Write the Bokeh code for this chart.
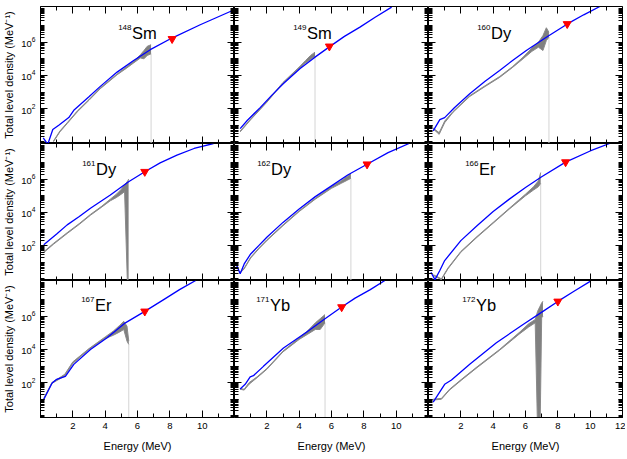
from bokeh.plotting import figure
from bokeh.layouts import gridplot
from bokeh.models import (LinearAxis, LogAxis, FixedTicker, LogTickFormatter,
                          CustomJSTickFormatter, Range1d)
from bokeh.embed import file_html
from bokeh.resources import INLINE
from bokeh.core.properties import value

# ---------------- data (energy in MeV, level density as log10 of MeV^-1) ----
mass_numbers = ["148", "149", "160", "161", "162", "166", "167", "171", "172"]
elements = ["Sm", "Sm", "Dy", "Dy", "Dy", "Er", "Er", "Yb", "Yb"]

# model (blue) curves
sm148_model_e = [0.17, 0.45, 0.76, 1.13, 1.75, 2.06, 2.98, 3.7, 4.74, 5.76, 6.79, 8.13, 9.88, 11.74, 12.0]
sm148_model_log = [0.24, -0.15, 0.74, 1.0, 1.46, 1.9, 2.7, 3.34, 4.2, 4.9, 5.55, 6.25, 7.05, 7.85, 7.95]
sm149_model_e = [0.35, 0.8, 1.59, 2.3, 3.03, 4.06, 4.98, 5.91, 6.8, 7.76, 8.7, 9.72]
sm149_model_log = [0.8, 1.3, 2.06, 2.8, 3.51, 4.41, 5.1, 5.75, 6.35, 6.91, 7.5, 8.11]
dy160_model_e = [0.29, 0.7, 1.0, 1.6, 2.55, 3.5, 4.4, 5.2, 6.05, 7.29, 8.59, 9.6, 10.6]
dy160_model_log = [0.66, 1.34, 1.46, 2.05, 2.9, 3.65, 4.3, 4.9, 5.5, 6.3, 7.1, 7.65, 8.15]
dy161_model_e = [0.2, 1.0, 1.65, 2.4, 3.09, 4.32, 5.45, 6.45, 7.4, 8.44, 9.5, 10.7]
dy161_model_log = [2.05, 2.7, 3.25, 3.75, 4.25, 5.05, 5.85, 6.45, 6.98, 7.45, 7.85, 8.15]
dy162_model_e = [0.1, 0.35, 0.6, 1.0, 1.5, 2.0, 3.0, 4.0, 5.0, 6.0, 7.0, 8.2, 9.5, 10.8]
dy162_model_log = [0.9, 0.3, 0.9, 1.5, 2.0, 2.5, 3.4, 4.2, 4.95, 5.6, 6.25, 6.9, 7.6, 8.15]
er166_model_e = [0.15, 0.4, 0.7, 1.0, 2.0, 3.0, 4.0, 5.0, 6.0, 7.0, 8.48, 10.0, 11.2]
er166_model_log = [0.4, -0.05, 0.5, 1.1, 2.3, 3.2, 4.05, 4.8, 5.5, 6.15, 7.03, 7.7, 8.15]
er167_model_e = [0.2, 0.72, 1.0, 1.54, 2.06, 3.09, 4.12, 5.25, 6.45, 7.62, 8.6, 9.6]
er167_model_log = [0.98, 1.98, 2.2, 2.38, 3.1, 4.0, 4.7, 5.6, 6.29, 7.0, 7.6, 8.15]
yb171_model_e = [0.35, 0.66, 0.97, 1.17, 1.79, 3.03, 4.47, 5.6, 6.63, 7.46, 8.4, 9.3]
yb171_model_log = [1.62, 1.9, 2.35, 2.42, 2.98, 4.09, 5.05, 5.85, 6.55, 7.09, 7.6, 8.15]
yb172_model_e = [0.29, 1.0, 1.42, 2.55, 4.2, 5.85, 7.08, 8.0, 9.0, 10.0]
yb172_model_log = [0.82, 1.9, 2.16, 3.1, 4.4, 5.5, 6.29, 6.89, 7.5, 8.1]

# experimental (grey) bands: lower and upper edge
sm148_exp_e = [0.8, 1.2, 1.65, 2.27, 3.0, 3.7, 4.74, 5.3, 5.76, 6.18, 6.4, 6.6, 6.84]
sm148_exp_lo = [0.0, 0.6, 1.1, 1.8, 2.5, 3.2, 4.04, 4.42, 4.75, 5.05, 5.0, 5.2, 5.3]
sm148_exp_hi = [0.05, 0.65, 1.15, 1.85, 2.55, 3.25, 4.09, 4.5, 4.85, 5.25, 5.5, 5.75, 5.85]
sm149_exp_e = [0.35, 1.0, 2.0, 3.0, 4.0, 4.4, 4.7, 4.98]
sm149_exp_lo = [0.6, 1.33, 2.38, 3.53, 4.42, 4.75, 4.95, 5.15]
sm149_exp_hi = [0.65, 1.38, 2.43, 3.58, 4.5, 4.9, 5.2, 5.4]
dy160_exp_e = [0.29, 0.66, 1.0, 1.52, 2.55, 3.5, 4.4, 5.2, 5.85, 6.4, 6.8, 7.08, 7.29, 7.45]
dy160_exp_lo = [0.78, 0.45, 1.15, 1.78, 2.73, 3.33, 3.88, 4.48, 5.0, 5.45, 5.7, 5.5, 6.1, 6.3]
dy160_exp_hi = [0.83, 0.55, 1.25, 1.83, 2.78, 3.38, 3.93, 4.53, 5.1, 5.65, 6.0, 6.4, 6.87, 6.6]
dy161_exp_e = [0.2, 0.8, 1.65, 2.4, 3.09, 3.8, 4.32, 4.7, 5.0, 5.2, 5.4, 5.45]
dy161_exp_lo = [1.58, 2.08, 2.73, 3.28, 3.83, 4.33, 4.7, 4.9, 5.1, 5.25, -1.0, -1.0]
dy161_exp_hi = [1.63, 2.13, 2.78, 3.33, 3.88, 4.38, 4.8, 5.1, 5.4, 5.65, 5.9, 6.0]
dy162_exp_e = [0.35, 0.6, 1.0, 1.5, 2.0, 3.0, 4.0, 5.0, 6.0, 6.6, 7.0, 7.2]
dy162_exp_lo = [0.35, 0.6, 1.25, 1.8, 2.3, 3.2, 4.05, 4.8, 5.45, 5.75, 5.95, 6.05]
dy162_exp_hi = [0.4, 0.65, 1.3, 1.85, 2.35, 3.25, 4.1, 4.85, 5.55, 5.9, 6.2, 6.35]
er166_exp_e = [0.3, 0.8, 1.2, 2.0, 3.0, 4.0, 5.0, 6.0, 6.5, 6.8, 6.94]
er166_exp_lo = [0.2, -0.05, 0.6, 1.6, 2.5, 3.35, 4.2, 5.0, 5.35, 5.55, 5.75]
er166_exp_hi = [0.25, 0.0, 0.65, 1.65, 2.55, 3.4, 4.25, 5.1, 5.55, 5.9, 6.4]
er167_exp_e = [0.2, 0.7, 1.5, 2.0, 3.0, 4.0, 4.5, 4.9, 5.15, 5.35, 5.46]
er167_exp_lo = [1.0, 1.95, 2.4, 3.15, 4.0, 4.65, 4.85, 5.05, 5.2, 4.5, 4.3]
er167_exp_hi = [1.05, 2.0, 2.5, 3.25, 4.05, 4.75, 5.1, 5.45, 5.69, 5.4, 4.5]
yb171_exp_e = [0.35, 0.6, 0.9, 1.4, 2.0, 3.0, 4.0, 4.5, 5.0, 5.3, 5.6]
yb171_exp_lo = [1.6, 1.55, 1.9, 2.3, 2.8, 3.85, 4.6, 4.9, 5.2, 5.2, 5.6]
yb171_exp_hi = [1.65, 1.6, 2.0, 2.35, 2.85, 3.9, 4.7, 5.1, 5.6, 5.85, 6.1]
yb172_exp_e = [0.29, 0.8, 1.3, 2.04, 3.0, 4.4, 5.65, 6.2, 6.6, 6.75, 6.9, 7.0, 7.08]
yb172_exp_lo = [0.95, 1.0, 1.55, 2.15, 2.9, 3.95, 4.95, 5.35, 5.6, -1.0, -1.0, 5.9, 6.0]
yb172_exp_hi = [1.0, 1.05, 1.6, 2.2, 2.95, 4.0, 5.05, 5.55, 5.8, 6.3, 6.6, 6.8, 6.9]

# level density at the neutron separation energy (red triangles)
sn_energy = [8.14, 5.87, 8.58, 6.45, 8.2, 8.48, 6.45, 6.63, 8.0]
sn_log_rho = [6.2, 5.75, 7.1, 6.45, 6.9, 7.03, 6.29, 6.55, 6.89]

model_e = [sm148_model_e, sm149_model_e, dy160_model_e, dy161_model_e, dy162_model_e,
           er166_model_e, er167_model_e, yb171_model_e, yb172_model_e]
model_log = [sm148_model_log, sm149_model_log, dy160_model_log, dy161_model_log, dy162_model_log,
             er166_model_log, er167_model_log, yb171_model_log, yb172_model_log]
exp_e = [sm148_exp_e, sm149_exp_e, dy160_exp_e, dy161_exp_e, dy162_exp_e,
         er166_exp_e, er167_exp_e, yb171_exp_e, yb172_exp_e]
exp_lo = [sm148_exp_lo, sm149_exp_lo, dy160_exp_lo, dy161_exp_lo, dy162_exp_lo,
          er166_exp_lo, er167_exp_lo, yb171_exp_lo, yb172_exp_lo]
exp_hi = [sm148_exp_hi, sm149_exp_hi, dy160_exp_hi, dy161_exp_hi, dy162_exp_hi,
          er166_exp_hi, er167_exp_hi, yb171_exp_hi, yb172_exp_hi]
draw_end_marker = [True, True, True, False, True, True, True, True, False]

x_major_ticks = [2, 4, 6, 8, 10]
x_major_ticks_last = [2, 4, 6, 8, 10, 12]
x_minor_ticks = [1, 3, 5, 7, 9, 11]
y_major_ticks = [1e2, 1e4, 1e6]

# ---------------- styling / layout ------------------------------------------
FONT = "Liberation Sans"
X_MIN, X_MAX = 0.0, 12.0
LOG_MIN, LOG_MAX = -0.1, 8.15
Y_MIN, Y_MAX = 10 ** LOG_MIN, 10 ** LOG_MAX
y_minor_ticks = [k * 10.0 ** n for n in range(-1, 9) for k in range(1, 10)
                 if Y_MIN <= k * 10.0 ** n <= Y_MAX and k * 10.0 ** n not in y_major_ticks]

label_x_px = [79, 60, 50, 43, 24, 38, 42, 23, 35]
label_y_px = [26, 26, 26, 25, 25, 25, 24, 24, 24]

FW, FH = 194, 137


def style_axis(ax, show_labels):
    ax.axis_line_color = "black"
    ax.axis_line_width = 1
    ax.major_tick_line_color = "black"
    ax.minor_tick_line_color = "black"
    ax.major_tick_in = 7
    ax.major_tick_out = 0
    ax.minor_tick_in = 4
    ax.minor_tick_out = 0
    ax.major_label_text_font = FONT
    ax.major_label_text_font_size = "9.5px"
    ax.major_label_text_color = "black"
    ax.axis_label_text_font = FONT
    ax.axis_label_text_font_size = "11px"
    ax.axis_label_text_font_style = "normal"
    ax.axis_label_text_color = "black"
    if not show_labels:
        ax.formatter = CustomJSTickFormatter(code="return ''")


def make_panel(i):
    r, c = divmod(i, 3)
    p = figure(frame_width=FW, frame_height=FH,
               x_range=Range1d(X_MIN, X_MAX), y_range=Range1d(Y_MIN, Y_MAX),
               y_axis_type="log", x_axis_location=None, y_axis_location=None,
               output_backend="svg", toolbar_location=None,
               min_border_left=39 if c == 0 else 0,
               min_border_right=3 if c == 2 else 0,
               min_border_top=6 if r == 0 else 0, min_border_bottom=0,
               background_fill_color="white", border_fill_color="white")
    p.outline_line_color = "black"
    p.grid.visible = False

    xt = x_major_ticks_last if c == 2 else x_major_ticks
    # bottom axis
    if r == 2:
        bx = LinearAxis(ticker=FixedTicker(ticks=xt, minor_ticks=x_minor_ticks),
                        axis_label="Energy (MeV)")
        style_axis(bx, True)
        bx.major_label_standoff = 5
        bx.axis_label_standoff = 8
    else:
        bx = LinearAxis(ticker=FixedTicker(ticks=xt, minor_ticks=x_minor_ticks),
                        fixed_location=Y_MIN)
        style_axis(bx, False)
    p.add_layout(bx, "below")
    # top axis
    tx = LinearAxis(ticker=FixedTicker(ticks=xt, minor_ticks=x_minor_ticks),
                    fixed_location=Y_MAX)
    style_axis(tx, False)
    p.add_layout(tx, "above")
    # left axis
    if c == 0:
        ly = LogAxis(ticker=FixedTicker(ticks=y_major_ticks, minor_ticks=y_minor_ticks),
                     formatter=LogTickFormatter(),
                     axis_label="Total level density (MeV\u207b\u00b9)")
        style_axis(ly, True)
        ly.major_label_standoff = 5
        ly.axis_label_standoff = 3
    else:
        ly = LogAxis(ticker=FixedTicker(ticks=y_major_ticks, minor_ticks=y_minor_ticks),
                     fixed_location=X_MIN)
        style_axis(ly, False)
    p.add_layout(ly, "left")
    # right axis
    ry = LogAxis(ticker=FixedTicker(ticks=y_major_ticks, minor_ticks=y_minor_ticks),
                 fixed_location=X_MAX)
    style_axis(ry, False)
    p.add_layout(ry, "right")

    # glyphs
    ee = exp_e[i]
    lo = [10 ** v for v in exp_lo[i]]
    hi = [10 ** v for v in exp_hi[i]]
    if draw_end_marker[i]:
        p.segment(x0=[ee[-1]], y0=[lo[-1]], x1=[ee[-1]], y1=[Y_MIN],
                  line_color="#d4d4d4", line_width=1)
    p.varea(x=ee, y1=lo, y2=hi, fill_color="#808080")
    p.line(ee, lo, line_color="#8a8a8a", line_width=1)
    p.line(ee, hi, line_color="#8a8a8a", line_width=1)
    p.line(model_e[i], [10 ** v for v in model_log[i]], line_color="#0000ff", line_width=1.3)
    p.scatter([sn_energy[i]], [10 ** sn_log_rho[i]], marker="inverted_triangle",
              size=8, fill_color="#ff0000", line_color="#ff0000")

    # nucleus label
    p.text(x=[X_MIN], y=[Y_MAX], text=[mass_numbers[i]],
           x_offset=label_x_px[i] + 12, y_offset=label_y_px[i] - 5.5,
           text_align="right", text_baseline="alphabetic",
           text_font=value(FONT), text_font_size="8px", text_color="black")
    p.text(x=[X_MIN], y=[Y_MAX], text=[elements[i]],
           x_offset=label_x_px[i] + 12.5, y_offset=label_y_px[i],
           text_align="left", text_baseline="alphabetic",
           text_font=value(FONT), text_font_size="16.5px", text_color="black")
    return p


panels = [make_panel(i) for i in range(9)]
grid = gridplot([panels[0:3], panels[3:6], panels[6:9]], toolbar_location=None)

open("out.html", "w").write(file_html(grid, INLINE))
